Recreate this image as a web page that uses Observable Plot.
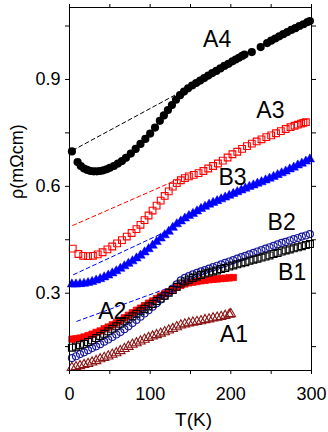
<!DOCTYPE html>
<html><head><meta charset="utf-8">
<script src="https://cdn.jsdelivr.net/npm/d3@7"></script>
<script src="https://cdn.jsdelivr.net/npm/@observablehq/plot@0.6"></script>
<style>body{margin:0;background:#fff;} svg{display:block;}</style>
</head><body><div id="chart"></div>
<script>
// ---- data ----
const A1_T = [3,8,13,18,23,28,33,38,43,48,53,58,63,68,73,78,83,88,93,98,103,108,113,118,123,128,133,138,143,148,153,158,163,168,173,178,183,188,193,198,200];
const A1_R = [0.091,0.093,0.096,0.099,0.102,0.106,0.110,0.115,0.119,0.123,0.128,0.132,0.138,0.144,0.150,0.156,0.160,0.165,0.170,0.175,0.179,0.183,0.187,0.191,0.196,0.200,0.205,0.210,0.213,0.216,0.218,0.220,0.222,0.225,0.227,0.230,0.232,0.234,0.237,0.240,0.242];

const A2_T = [3,8,13,18,23,28,33,38,43,48,53,58,63,68,73,78,83,88,93,98,103,108,113,118,123,128,133,138,143,148,153,158,163,168,173,178,183,188,193,198,203];
const A2_R = [0.171,0.172,0.174,0.177,0.181,0.185,0.190,0.194,0.200,0.205,0.211,0.217,0.224,0.231,0.238,0.245,0.252,0.258,0.265,0.272,0.278,0.285,0.292,0.298,0.304,0.311,0.317,0.322,0.326,0.329,0.331,0.333,0.335,0.336,0.338,0.339,0.340,0.341,0.342,0.343,0.344];

const B1_T = [3,8,13,18,23,28,33,38,43,48,53,58,63,68,73,78,83,88,93,98,103,108,113,118,123,128,133,138,143,148,153,158,163,168,173,178,183,188,193,198,203,208,213,218,223,228,233,238,243,248,253,258,263,268,273,278,283,288,293,298];
const B1_R = [0.147,0.150,0.154,0.158,0.163,0.168,0.174,0.180,0.186,0.193,0.200,0.207,0.214,0.221,0.228,0.235,0.242,0.249,0.256,0.263,0.270,0.278,0.285,0.293,0.301,0.309,0.318,0.327,0.333,0.338,0.343,0.347,0.351,0.355,0.358,0.361,0.364,0.368,0.371,0.375,0.378,0.381,0.384,0.387,0.391,0.394,0.397,0.400,0.403,0.406,0.410,0.413,0.417,0.420,0.423,0.426,0.429,0.432,0.435,0.438];

const B2_T = [3,8,13,18,23,28,33,38,43,48,53,58,63,68,73,78,83,88,93,98,103,108,113,118,123,128,133,138,143,148,153,158,163,168,173,178,183,188,193,198,203,208,213,218,223,228,233,238,243,248,253,258,263,268,273,278,283,288,293,298];
const B2_R = [0.118,0.123,0.129,0.134,0.140,0.146,0.151,0.157,0.164,0.170,0.177,0.184,0.191,0.199,0.207,0.216,0.225,0.234,0.243,0.252,0.262,0.272,0.282,0.292,0.302,0.313,0.325,0.336,0.343,0.348,0.353,0.357,0.361,0.365,0.369,0.373,0.377,0.381,0.385,0.389,0.393,0.397,0.401,0.405,0.409,0.413,0.417,0.421,0.425,0.429,0.433,0.437,0.441,0.444,0.448,0.452,0.455,0.459,0.462,0.466];

const B3_T = [3,8,13,18,23,28,33,38,43,48,53,58,63,68,73,78,83,88,93,98,103,108,113,118,123,128,133,138,143,148,153,158,163,168,173,178,183,188,193,198,203,208,213,218,223,228,233,238,243,248,253,258,263,268,273,278,283,288,293,298];
const B3_R = [0.325,0.325,0.326,0.327,0.329,0.332,0.336,0.340,0.345,0.350,0.356,0.362,0.369,0.376,0.383,0.390,0.398,0.406,0.415,0.424,0.434,0.444,0.454,0.463,0.473,0.484,0.494,0.502,0.510,0.517,0.523,0.530,0.537,0.543,0.549,0.554,0.559,0.564,0.569,0.574,0.579,0.584,0.589,0.594,0.599,0.603,0.608,0.612,0.617,0.622,0.627,0.632,0.637,0.642,0.648,0.653,0.659,0.664,0.670,0.676];

const A3_T = [4,11,17,23,29,35,41,47,53,59,65,71,77,83,88,93,98,103,108,113,118,123,128,133,138,143,148,154,160,166,172,178,184,190,196,202,208,214,220,226,232,238,244,250,256,262,268,274,279,283,287,290,293];
const A3_R = [0.425,0.410,0.405,0.404,0.405,0.409,0.415,0.423,0.431,0.440,0.449,0.459,0.469,0.480,0.492,0.505,0.518,0.532,0.546,0.560,0.573,0.586,0.599,0.609,0.617,0.623,0.628,0.632,0.637,0.643,0.650,0.657,0.664,0.672,0.681,0.690,0.697,0.705,0.713,0.720,0.726,0.732,0.738,0.743,0.749,0.755,0.761,0.766,0.770,0.773,0.776,0.778,0.780];

const A4_T = [3,10,14,18,22,26,30,34,38,42,46,50,55,60,65,70,76,82,88,94,100,106,112,117,122,127,132,137,142,147,152,157,162,167,172,177,182,187,192,197,202,206,210,214,217,226,237,245,250,255,260,265,270,275,280,285,290,295,298];
const A4_R = [0.698,0.668,0.657,0.650,0.646,0.643,0.642,0.642,0.643,0.645,0.648,0.652,0.657,0.664,0.671,0.680,0.692,0.705,0.719,0.733,0.748,0.765,0.784,0.799,0.814,0.828,0.843,0.856,0.866,0.875,0.883,0.890,0.897,0.904,0.911,0.918,0.924,0.931,0.938,0.944,0.951,0.956,0.961,0.966,0.970,0.977,0.991,1.002,1.009,1.015,1.021,1.027,1.033,1.039,1.044,1.050,1.055,1.061,1.064];

// dashed guide lines (two end points each)
const dashA4_T = [4,138],  dashA4_R = [0.701,0.865];
const dashA3_T = [4,137],  dashA3_R = [0.490,0.622];
const dashB3_T = [5,131],  dashB3_R = [0.352,0.485];
const dashB2_T = [9,141],  dashB2_R = [0.221,0.330];

// annotations
const labNames = ["A4","A3","B3","B2","B1","A2","A1"];
const labT     = [183,249,202,263,276,53,204];
const labR     = [1.012,0.813,0.624,0.498,0.357,0.248,0.183];

const xTicks = [0,100,200,300];
const xMinor = [0,50,100,150,200,250,300];
const yTicks = [0.3,0.6,0.9];
const yMinor = [0.15,0.3,0.45,0.6,0.75,0.9,1.05];

// ---- build tables ----
const zip = (T,R) => T.map((t,i)=>({T:t, R:R[i]}));
const font = "'Liberation Sans', Arial, Helvetica, sans-serif";

const dash = (T,R,color) => Plot.line(zip(T,R), {x:"T", y:"R", stroke:color, strokeWidth:1, strokeDasharray:"4,3"});

const chart = Plot.plot({
  width: 328, height: 432,
  marginLeft: 69, marginRight: 17, marginTop: 7, marginBottom: 62,
  style: {fontFamily: font, background: "#fff", color: "#000"},
  x: {domain: [0,300]},
  y: {domain: [0.083, 1.102]},
  marks: [
    dash(dashA4_T, dashA4_R, "#000"),
    dash(dashA3_T, dashA3_R, "#ff0000"),
    dash(dashB3_T, dashB3_R, "#0000ff"),
    dash(dashB2_T, dashB2_R, "#0000ff"),
    Plot.dot(zip(A1_T,A1_R), {x:"T", y:"R", symbol:"triangle", r:3.5, stroke:"#8b1414", strokeWidth:1.1, fill:"none"}),
    Plot.dot(zip(A2_T,A2_R), {x:"T", y:"R", symbol:"square", r:3.6, fill:"#ff0000", stroke:"#ff0000", strokeWidth:0.8}),
    Plot.dot(zip(B2_T,B2_R), {x:"T", y:"R", symbol:"circle", r:3.5, stroke:"#1c1c9c", strokeWidth:1.2, fill:"none"}),
    Plot.dot(zip(B1_T,B1_R), {x:"T", y:"R", symbol:"square", r:3.9, stroke:"#000", strokeWidth:1.1, fill:"none"}),
    Plot.dot(zip(B3_T,B3_R), {x:"T", y:"R", symbol:"triangle", r:3.5, fill:"#0000ff", stroke:"#0000ff", strokeWidth:0.5}),
    Plot.dot(zip(A3_T,A3_R), {x:"T", y:"R", symbol:"square", r:3.8, stroke:"#ff0000", strokeWidth:1.1, fill:"none"}),
    Plot.dot(zip(A4_T,A4_R), {x:"T", y:"R", symbol:"circle", r:4.1, fill:"#000", stroke:"none"}),
    Plot.text(labNames.map((n,i)=>({n, T:labT[i], R:labR[i]})), {x:"T", y:"R", text:"n", fontSize:23, fill:"#000", lineAnchor:"middle"}),
    Plot.frame({stroke:"#000", strokeWidth:1}),
    Plot.axisX({anchor:"bottom", ticks:xMinor, tickSize:4, tickFormat:()=>"", label:null}),
    Plot.axisX({anchor:"bottom", ticks:xTicks, tickSize:0, tickPadding:17, fontSize:18, label:null}),
    Plot.axisX({anchor:"top", ticks:xMinor, tickSize:4, tickFormat:()=>"", label:null}),
    Plot.axisY({anchor:"left", ticks:yMinor, tickSize:4, tickFormat:()=>"", label:null}),
    Plot.axisY({anchor:"left", ticks:yTicks, tickSize:0, tickPadding:9, fontSize:18, label:null}),
    Plot.axisY({anchor:"right", ticks:yMinor, tickSize:4, tickFormat:()=>"", label:null}),
    Plot.text(["T(K)"], {frameAnchor:"bottom", dx:3, dy:49, fontSize:19, lineAnchor:"middle", fill:"#000"}),
    Plot.text(["ρ(mΩcm)"], {frameAnchor:"left", dx:-52, dy:10, rotate:-90, fontSize:18, lineAnchor:"middle", fill:"#000"})
  ]
});
document.getElementById("chart").appendChild(chart);
</script></body></html>
